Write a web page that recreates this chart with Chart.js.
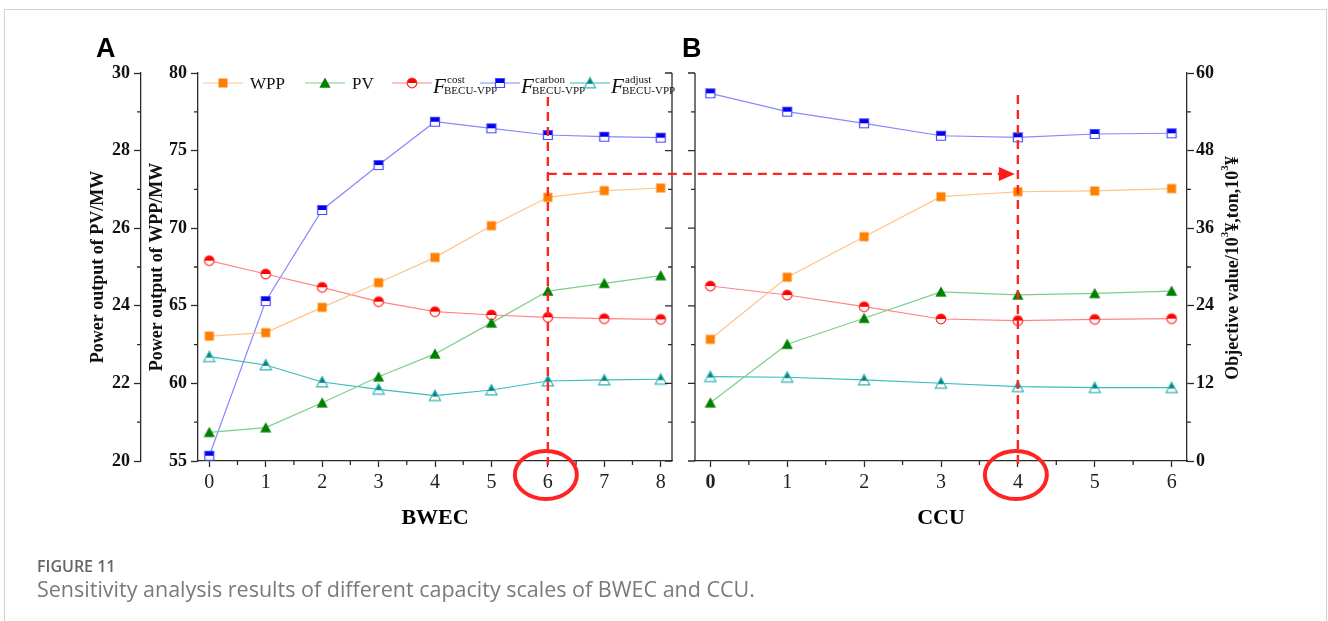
<!DOCTYPE html>
<html>
<head>
<meta charset="utf-8">
<script src="https://cdn.jsdelivr.net/npm/chart.js@4/dist/chart.umd.min.js"></script>
<style>
  body { margin: 0; background: #fff; width: 1328px; height: 621px; overflow: hidden; position: relative; }
  .frame { position: absolute; left: 4px; top: 9px; width: 1321px; height: 700px; border: 1px solid #d2d2d2; }
  .layer { position: absolute; left: 0; top: 0; }
  .tag { position: absolute; top: 33px; font: bold 27px "Liberation Sans", Arial, sans-serif; color: #000; }
  #figno { position: absolute; left: 37px; top: 555px; font: 600 16px "Open Sans", sans-serif; color: #666; }
  #figcap { position: absolute; left: 37px; top: 574px; font: 21.5px "Open Sans", sans-serif; color: #7a7a7a; }
</style>
</head>
<body>
<div class="frame"></div>
<canvas id="chartA" class="layer" width="1328" height="621"></canvas>
<canvas id="chartB" class="layer" width="1328" height="621"></canvas>
<div class="tag" style="left:96px">A</div>
<div class="tag" style="left:682px">B</div>
<div id="figno">FIGURE 11</div>
<div id="figcap">Sensitivity analysis results of different capacity scales of BWEC and CCU.</div>
<script>
// capacity levels on the x axes
const bwecLevels = [0, 1, 2, 3, 4, 5, 6, 7, 8];
const ccuLevels = [0, 1, 2, 3, 4, 5, 6];

// panel A: BWEC sensitivity
const wppA = [63.05, 63.27, 64.90, 66.49, 68.12, 70.16, 71.99, 72.42, 72.59];
const pvA = [20.74, 20.86, 21.50, 22.17, 22.76, 23.56, 24.38, 24.58, 24.78];
const costA = [30.98, 28.92, 26.86, 24.64, 23.09, 22.58, 22.22, 22.01, 21.91];
const carbonA = [0.82, 24.74, 38.82, 45.77, 52.47, 51.45, 50.41, 50.15, 50.00];
const adjustA = [16.13, 14.85, 12.22, 11.09, 10.10, 10.98, 12.37, 12.53, 12.64];

// panel B: CCU sensitivity
const wppB = [62.84, 66.84, 69.45, 72.03, 72.35, 72.40, 72.55];
const pvB = [21.50, 23.01, 23.68, 24.36, 24.28, 24.32, 24.38];
const costB = [27.06, 25.67, 23.86, 21.96, 21.70, 21.91, 22.01];
const carbonB = [56.86, 54.02, 52.22, 50.30, 50.06, 50.57, 50.68];
const adjustB = [13.04, 12.95, 12.53, 12.02, 11.49, 11.34, 11.34];

// axis ranges
const wppRange = [55, 80, 5];
const pvRange = [20, 30, 2];
const objRange = [0, 60, 12];

// highlighted choices and arrow level (objective units)
const pickA = 6;
const pickB = 4;
const arrowLevel = 44.4;

const serif = '"Liberation Serif", "Times New Roman", serif';
const axisColor = '#2b2b2b';

function marker(shape, fill, edge, half) {
  const c = document.createElement('canvas');
  c.width = 14; c.height = 14;
  const g = c.getContext('2d');
  const path = () => {
    g.beginPath();
    if (shape === 'circle') g.arc(7, 7, 4.8, 0, Math.PI * 2);
    else if (shape === 'rect') g.rect(2.5, 2.5, 9, 9);
    else { g.moveTo(7, 1.5); g.lineTo(12.6, 11.8); g.lineTo(1.4, 11.8); g.closePath(); }
  };
  if (!half) {
    path(); g.fillStyle = fill; g.fill();
    return c;
  }
  path(); g.fillStyle = '#fff'; g.fill();
  g.save(); path(); g.clip();
  g.fillStyle = fill; g.fillRect(0, 0, 14, shape === 'tri' ? 7.8 : 7);
  g.restore();
  path(); g.strokeStyle = edge; g.lineWidth = 1.2; g.stroke();
  return c;
}

const mWpp = marker('rect', '#ff8000');
const mPv = marker('tri', '#008000');
const mCost = marker('circle', '#ff0000', '#ff2a2a', true);
const mCarbon = marker('rect', '#0000ee', '#4a4aff', true);
const mAdjust = marker('tri', '#007f7f', '#33b5b5', true);

const lineWpp = '#ffc48a', linePv = '#7ccf88', lineCost = '#ff8585', lineCarbon = '#8888ff', lineAdjust = '#3cbcbc';

function series(levels, values, axis, color, img) {
  return {
    data: levels.map((x, i) => ({ x: x, y: values[i] })),
    yAxisID: axis,
    borderColor: color,
    backgroundColor: color,
    borderWidth: 1.2,
    pointStyle: img,
    pointRadius: 6,
    tension: 0,
    fill: false,
    clip: false
  };
}

function xAxis(levels, title, boldZero) {
  return {
    type: 'linear',
    min: levels[0] - 0.2,
    max: levels[levels.length - 1] + 0.2,
    afterBuildTicks: s => { s.ticks = levels.map(v => ({ value: v })); },
    afterFit: s => { s.height = 80; },
    grid: { drawOnChartArea: false, drawTicks: true, tickLength: 6, tickColor: axisColor, tickWidth: 1.3 },
    border: { display: true, color: axisColor, width: 1.3 },
    ticks: {
      color: '#222', padding: 4,
      font: c => ({ family: serif, size: 20, weight: boldZero && c.tick && c.tick.value === 0 ? 'bold' : 'normal' })
    },
    title: { display: true, text: title, color: '#000', font: { family: serif, size: 22, weight: 'bold' }, padding: { top: 0, bottom: 9 } }
  };
}

function yAxis(range, pos, show, width, title, titlePad, weight) {
  return {
    type: 'linear', position: pos, display: show, weight: weight || 0,
    min: range[0], max: range[1],
    afterFit: s => { s.width = width; },
    grid: { drawOnChartArea: false, drawTicks: true, tickLength: 7, tickColor: axisColor, tickWidth: 1.3 },
    border: { display: true, color: axisColor, width: 1.3 },
    ticks: { stepSize: range[2], color: '#111', padding: pos === 'right' ? 2 : 4, font: { family: serif, size: 18, weight: 'bold' } },
    title: { display: !!title, text: title || '', color: '#111', font: { family: serif, size: 18, weight: 'bold' }, padding: { top: titlePad || 0, bottom: 0 } }
  };
}

function ticksOn(ctx, scale, values, x0, y0, dx, dy, vertical) {
  ctx.beginPath();
  values.forEach(v => {
    const p = scale.getPixelForValue(v);
    if (vertical) { ctx.moveTo(x0, p); ctx.lineTo(x0 + dx, p); }
    else { ctx.moveTo(p, y0); ctx.lineTo(p, y0 + dy); }
  });
  ctx.stroke();
}

function mids(arr) { return arr.slice(1).map((v, i) => (v + arr[i]) / 2); }
function steps(range) { const out = []; for (let v = range[0]; v <= range[1] + 1e-9; v += range[2]) out.push(v); return out; }

const legendItems = [
  { dx: 5, img: mWpp, color: lineWpp, text: 'WPP' },
  { dx: 107, img: mPv, color: linePv, text: 'PV' },
  { dx: 194, img: mCost, color: lineCost, sup: 'cost' },
  { dx: 282, img: mCarbon, color: lineCarbon, sup: 'carbon' },
  { dx: 372, img: mAdjust, color: lineAdjust, sup: 'adjust' }
];

const framePluginA = {
  id: 'frameA',
  afterDraw(chart) {
    const ctx = chart.ctx, a = chart.chartArea, s = chart.scales;
    ctx.save();
    ctx.strokeStyle = axisColor; ctx.lineWidth = 1.3;
    // minor ticks
    ticksOn(ctx, s.x, mids(bwecLevels), 0, a.bottom, 0, 4, false);
    ticksOn(ctx, s.pv, mids(steps(pvRange)), s.pv.right, 0, -4, 0, true);
    ticksOn(ctx, s.wpp, mids(steps(wppRange)), a.left, 0, -4, 0, true);
    // right border with inward ticks
    ctx.beginPath(); ctx.moveTo(a.right, a.top); ctx.lineTo(a.right, a.bottom); ctx.stroke();
    ticksOn(ctx, s.wpp, steps(wppRange), a.right, 0, -7, 0, true);
    ticksOn(ctx, s.wpp, mids(steps(wppRange)), a.right, 0, -4, 0, true);
    // legend
    const ly = a.top + 10;
    legendItems.forEach(it => {
      const x = a.left + it.dx;
      ctx.strokeStyle = it.color; ctx.lineWidth = 1.2;
      ctx.beginPath(); ctx.moveTo(x, ly); ctx.lineTo(x + 40, ly); ctx.stroke();
      ctx.drawImage(it.img, x + 20 - 7, ly - 7);
      ctx.fillStyle = '#111'; ctx.textBaseline = 'alphabetic'; ctx.textAlign = 'left';
      if (it.text) {
        ctx.font = '17px ' + serif;
        ctx.fillText(it.text, x + 47, ly + 6);
      } else {
        ctx.font = 'italic 21px ' + serif;
        ctx.fillText('F', x + 41, ly + 10);
        ctx.font = '11px ' + serif;
        ctx.fillText(it.sup, x + 55, ly);
        ctx.fillText('BECU-VPP', x + 52, ly + 11);
      }
    });
    ctx.restore();
  }
};

const chartA = new Chart(document.getElementById('chartA'), {
  type: 'line',
  data: {
    datasets: [
      series(bwecLevels, wppA, 'wpp', lineWpp, mWpp),
      series(bwecLevels, pvA, 'pv', linePv, mPv),
      series(bwecLevels, costA, 'obj', lineCost, mCost),
      series(bwecLevels, carbonA, 'obj', lineCarbon, mCarbon),
      series(bwecLevels, adjustA, 'obj', lineAdjust, mAdjust)
    ]
  },
  options: {
    responsive: false,
    animation: false,
    layout: { padding: { left: 88, top: 73, right: 656, bottom: 80 } },
    plugins: { legend: { display: false }, tooltip: { enabled: false } },
    scales: {
      x: xAxis(bwecLevels, 'BWEC', false),
      pv: yAxis(pvRange, 'left', true, 53, 'Power output of PV/MW', 0, 2),
      wpp: yAxis(wppRange, 'left', true, 57, 'Power output of WPP/MW', 6, 1),
      obj: yAxis(objRange, 'right', false, 0)
    }
  },
  plugins: [framePluginA]
});

function richText(ctx, parts, x, y) {
  let cx = x;
  parts.forEach(p => {
    ctx.font = p[1] ? 'bold 11px ' + serif : 'bold 18px ' + serif;
    ctx.fillText(p[0], cx, p[1] ? y - 8 : y);
    cx += ctx.measureText(p[0]).width;
  });
  return cx - x;
}

const framePluginB = {
  id: 'frameB',
  afterDraw(chart) {
    const ctx = chart.ctx, a = chart.chartArea, s = chart.scales;
    ctx.save();
    ctx.strokeStyle = axisColor; ctx.lineWidth = 1.3;
    ticksOn(ctx, s.x, mids(ccuLevels), 0, a.bottom, 0, 4, false);
    ticksOn(ctx, s.obj, mids(steps(objRange)), a.right, 0, 4, 0, true);
    // left border with outward ticks
    ctx.beginPath(); ctx.moveTo(a.left, a.top); ctx.lineTo(a.left, a.bottom); ctx.stroke();
    ticksOn(ctx, s.wpp, steps(wppRange), a.left, 0, -7, 0, true);
    ticksOn(ctx, s.wpp, mids(steps(wppRange)), a.left, 0, -4, 0, true);

    // right axis title, reading bottom to top
    const parts = [['Objective value/10'], ['3', 1], ['\u00a5,ton,10'], ['3', 1], ['\u00a5']];
    ctx.fillStyle = '#111'; ctx.textBaseline = 'middle'; ctx.textAlign = 'left';
    ctx.save();
    ctx.translate(a.right + 46, (a.top + a.bottom) / 2 + 1);
    ctx.rotate(-Math.PI / 2);
    ctx.globalAlpha = 0;
    const w = richText(ctx, parts, 0, 0);
    ctx.globalAlpha = 1;
    richText(ctx, parts, -w / 2, 0);
    ctx.restore();

    // red highlights across both panels
    const aA = chartA.chartArea;
    const xa = chartA.scales.x.getPixelForValue(pickA);
    const xb = s.x.getPixelForValue(pickB);
    const yArrow = chartA.scales.obj.getPixelForValue(arrowLevel);
    ctx.strokeStyle = '#ff2424'; ctx.fillStyle = '#ff1a1a';
    ctx.lineWidth = 2.4; ctx.setLineDash([9, 6]);
    ctx.beginPath();
    ctx.moveTo(xa, aA.top + 24); ctx.lineTo(xa, aA.bottom + 4);
    ctx.moveTo(xb, a.top + 22); ctx.lineTo(xb, a.bottom + 4);
    ctx.moveTo(xa, yArrow); ctx.lineTo(xb - 18, yArrow);
    ctx.stroke();
    ctx.setLineDash([]);
    ctx.beginPath();
    ctx.moveTo(xb - 19, yArrow - 7); ctx.lineTo(xb - 3, yArrow); ctx.lineTo(xb - 19, yArrow + 7);
    ctx.closePath(); ctx.fill();
    ctx.lineWidth = 4;
    [[xa, aA.bottom], [xb, a.bottom]].forEach(p => {
      ctx.beginPath();
      ctx.ellipse(p[0] - 2, p[1] + 14, 31, 24, 0, 0, Math.PI * 2);
      ctx.stroke();
    });
    ctx.restore();
  }
};

new Chart(document.getElementById('chartB'), {
  type: 'line',
  data: {
    datasets: [
      series(ccuLevels, wppB, 'wpp', lineWpp, mWpp),
      series(ccuLevels, pvB, 'pv', linePv, mPv),
      series(ccuLevels, costB, 'obj', lineCost, mCost),
      series(ccuLevels, carbonB, 'obj', lineCarbon, mCarbon),
      series(ccuLevels, adjustB, 'obj', lineAdjust, mAdjust)
    ]
  },
  options: {
    responsive: false,
    animation: false,
    layout: { padding: { left: 695, top: 73, right: 81, bottom: 80 } },
    plugins: { legend: { display: false }, tooltip: { enabled: false } },
    scales: {
      x: xAxis(ccuLevels, 'CCU', true),
      wpp: yAxis(wppRange, 'left', false, 0),
      pv: yAxis(pvRange, 'left', false, 0),
      obj: yAxis(objRange, 'right', true, 60)
    }
  },
  plugins: [framePluginB]
});
</script>
</body>
</html>
